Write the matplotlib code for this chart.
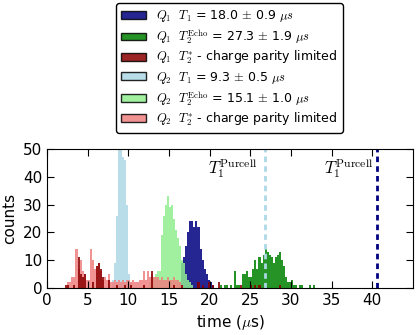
import matplotlib
matplotlib.use('Agg')
import matplotlib.pyplot as plt
from matplotlib.patches import Patch
import numpy as np

plt.rcParams['mathtext.fontset'] = 'cm'
plt.rcParams['font.family'] = 'DejaVu Sans'

bin_width = 0.25

# histogram counts, one value per 0.25 us bin, starting at the given time
q1_t1_start = 16.25
q1_t1 = [2, 9, 11, 15, 20, 24, 24, 22, 24, 22, 14, 10, 7, 5, 3, 2, 1]

q1_echo_start = 21.25
q1_echo = [1, 0, 1, 1, 0, 1, 0, 6,
           1, 1, 0, 5, 5, 6, 4, 4,
           7, 10, 7, 11, 9, 12, 14, 13,
           12, 11, 9, 11, 12, 13, 10, 8,
           4, 2, 2, 3, 1, 1, 0, 1,
           1, 0, 0, 0, 1, 0, 1]

q1_star_start = 2.25
q1_star = [1, 1, 0, 0, 1, 0, 11, 5,
           4, 5, 0, 0, 0, 2, 0, 8,
           9, 7, 4, 0, 0, 3, 0, 0,
           0, 1, 0, 0, 0, 1, 0, 0,
           1, 0, 0, 0, 0, 0, 1, 0,
           0, 0, 6, 0, 0, 0, 0, 0,
           0, 0, 0, 0, 0, 1, 0, 0,
           0, 1, 0, 0, 0, 0, 0, 0,
           0, 2, 0, 1, 0, 0, 2, 0,
           1, 0, 0, 2, 0, 0, 0, 0,
           0, 0, 0, 0, 0, 0, 1, 0,
           0, 0, 0, 1, 0, 1, 0, 1,
           0, 0, 0, 0, 0, 0, 0, 0,
           0, 1]

q2_t1_start = 8.0
q2_t1 = [3, 9, 26, 52, 54, 47, 46, 30, 5, 2]

q2_echo_start = 12.5
q2_echo = [2, 3, 4, 5, 6, 6, 19, 26, 30, 33, 29, 30, 25, 21, 18, 15, 10, 9, 5, 3, 2, 1]

q2_star_start = 2.5
q2_star = [2, 2, 4, 4, 14, 7, 10, 6,
           5, 3, 3, 14, 10, 7, 8, 9,
           6, 3, 4, 3, 5, 2, 2, 3,
           2, 3, 2, 3, 2, 3, 3, 2,
           3, 2, 2, 3, 3, 6, 3, 6,
           4, 5, 4, 4, 4, 3, 4, 3,
           3, 4, 3, 3, 4, 3, 3, 2,
           1]

purcell_q2 = 26.8
purcell_q1 = 40.6

labels = [r"$Q_1$  $T_1$ = 18.0 $\pm$ 0.9 $\mu s$",
          r"$Q_1$  $T_2^{\rm Echo}$ = 27.3 $\pm$ 1.9 $\mu s$",
          r"$Q_1$  $T_2^{*}$ - charge parity limited",
          r"$Q_2$  $T_1$ = 9.3 $\pm$ 0.5 $\mu s$",
          r"$Q_2$  $T_2^{\rm Echo}$ = 15.1 $\pm$ 1.0 $\mu s$",
          r"$Q_2$  $T_2^{*}$ - charge parity limited"]
colors = ['navy', 'green', 'darkred', 'lightblue', 'lightgreen', 'lightcoral']

fig = plt.figure(figsize=(4.16, 3.35), dpi=100)
ax = fig.add_axes([47/416, 47/335, 366/416, 139/335])

alpha = 0.85

def draw(start, counts, color):
    edges = start + bin_width * np.arange(len(counts))
    ax.bar(edges, counts, width=bin_width, align='edge', color=color,
           alpha=alpha, linewidth=0)

# drawing order: T1, echo, then T2*
draw(q1_t1_start, q1_t1, colors[0])
draw(q2_t1_start, q2_t1, colors[3])
draw(q1_echo_start, q1_echo, colors[1])
draw(q2_echo_start, q2_echo, colors[4])
draw(q2_star_start, q2_star, colors[5])
draw(q1_star_start, q1_star, colors[2])

ax.axvline(purcell_q2, color='lightblue', ls='--', lw=2, dashes=(2, 1.5))
ax.axvline(purcell_q1, color='navy', ls='--', lw=2, dashes=(2, 1.5))
ax.text(19.8, 41, r"$T_1^{\rm Purcell}$", fontsize=12)
ax.text(34.0, 41, r"$T_1^{\rm Purcell}$", fontsize=12)

ax.set_xlim(0, 45)
ax.set_ylim(0, 50)
ax.set_xticks(np.arange(0, 45, 5))
ax.set_yticks(np.arange(0, 60, 10))
ax.tick_params(direction='in', top=True, right=True, labelsize=11, length=5)
ax.set_xlabel(r"time ($\mu$s)", fontsize=11)
ax.set_ylabel("counts", fontsize=11)

handles = [Patch(facecolor=c, edgecolor='k', alpha=alpha) for c in colors]
leg = fig.legend(handles, labels, loc='upper center', fontsize=9,
                 bbox_to_anchor=(229.5/416, 1 - 3/335), fancybox=True,
                 framealpha=1, edgecolor='k', borderaxespad=0,
                 labelspacing=0.25, handleheight=0.6)

fig.savefig('out.png', dpi=100)
